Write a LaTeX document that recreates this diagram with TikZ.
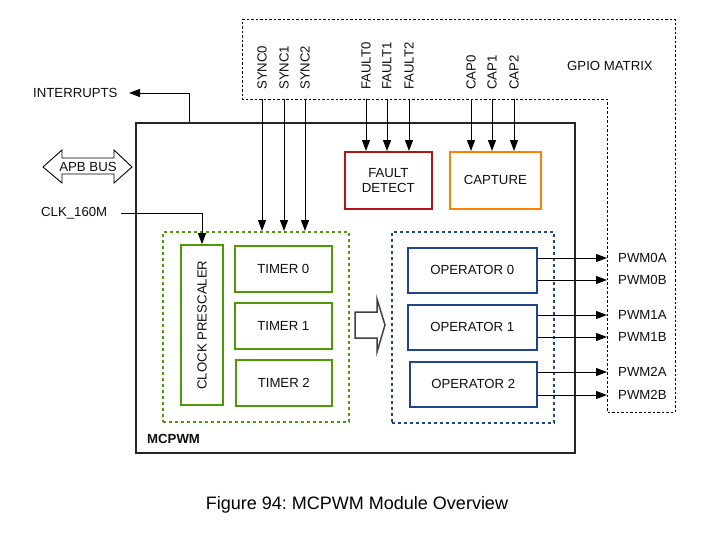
\documentclass[tikz,border=0pt]{standalone}
\usepackage{fontspec}
\setmainfont{Liberation Sans}
\usetikzlibrary{arrows.meta}
\definecolor{grn}{RGB}{78,154,6}
\definecolor{redb}{RGB}{180,20,20}
\definecolor{orng}{RGB}{255,128,0}
\definecolor{blu}{RGB}{30,70,140}
\definecolor{txt}{RGB}{15,15,15}
\begin{document}
\begin{tikzpicture}[x=1pt,y=-1pt,
  font=\fontsize{13.2}{15}\selectfont, text=txt,
  blk/.style={draw, line width=1.6pt, anchor=north west, inner sep=0pt, align=center},
  grp/.style={draw, line width=1.6pt, dash pattern=on 3pt off 3pt, anchor=north west, inner sep=0pt},
  arr/.style={-{Triangle[length=11pt,width=8pt]}, line width=1pt},
  lbl/.style={inner sep=0pt},
  vlbl/.style={inner sep=0pt, rotate=90, anchor=west}
]
\useasboundingbox (0,0) rectangle (710,533);
\fill[white] (0,0) rectangle (710,533);

% GPIO matrix dashed outline
\draw[line width=0.9pt, dash pattern=on 2.5pt off 2pt]
  (242,19) -- (675,19) -- (675,412) -- (607,412) -- (607,99) -- (242,99) -- cycle;
\node[lbl, anchor=west] (gpio) at (567,66) {GPIO MATRIX};

% MCPWM main box
\node[draw, line width=1.5pt, draw=black!85, anchor=north west, inner sep=0pt,
  minimum width=439pt, minimum height=330pt] (mcpwm) at (135,122) {};
\node[lbl, anchor=west, font=\fontsize{13.2}{15}\selectfont\bfseries] (mcpwmlbl) at (147,439) {MCPWM};

% Fault detect and capture
\node[blk, draw=redb, minimum width=87pt, minimum height=57pt] (fault) at (344,151) {FAULT\\DETECT};
\node[blk, draw=orng, minimum width=91pt, minimum height=57pt] (capture) at (449,151) {CAPTURE};

% Timer group
\node[grp, draw=grn, minimum width=186pt, minimum height=190pt] (tgrp) at (162,231) {};
\node[draw=grn, line width=1.6pt, inner sep=0pt, rotate=90,
  minimum width=160pt, minimum height=42pt] (cp) at (202,325) {CLOCK PRESCALER};
\node[blk, draw=grn, minimum width=97pt, minimum height=46pt] (t0) at (234,245) {TIMER 0};
\node[blk, draw=grn, minimum width=97pt, minimum height=46pt] (t1) at (234,302) {TIMER 1};
\node[blk, draw=grn, minimum width=96pt, minimum height=46pt] (t2) at (235,359) {TIMER 2};

% Operator group
\node[grp, draw=blu, minimum width=162pt, minimum height=191pt] (ogrp) at (391,231) {};
\node[blk, draw=blu, minimum width=129pt, minimum height=45pt] (op0) at (407,247) {OPERATOR 0};
\node[blk, draw=blu, minimum width=129pt, minimum height=45pt] (op1) at (407,304) {OPERATOR 1};
\node[blk, draw=blu, minimum width=127pt, minimum height=45pt] (op2) at (409,361) {OPERATOR 2};

% hollow arrow between groups
\draw[line width=1.5pt, draw=black!75, fill=white]
  (355,312) -- (377,312) -- (377,299) -- (385,325) -- (377,352) -- (377,338) -- (355,338) -- cycle;

% APB bus double arrow
\draw[line width=0.9pt, fill=white]
  (43,167) -- (62,150) -- (62,158) -- (114,158) -- (114,150) -- (132,167)
  -- (114,183) -- (114,174) -- (62,174) -- (62,183) -- cycle;
\node[lbl] (apb) at (88,167) {APB BUS};

% Interrupts
\node[lbl, anchor=west] (intr) at (33,93) {INTERRUPTS};
\coordinate (intsrc) at (189,122);
\coordinate (inttip) at (129,93);
\draw[arr] (intsrc) |- (inttip);

% Clock input
\node[lbl, anchor=west] (clk) at (41,213) {CLK\_160M};
\coordinate (clksrc) at (121,213);
\draw[arr] (clksrc) -| (cp.east);

% SYNC inputs
\node[vlbl] (sync0) at (262,90) {SYNC0};
\node[vlbl] (sync1) at (284,90) {SYNC1};
\node[vlbl] (sync2) at (305,90) {SYNC2};
\foreach \x/\n in {262/0,284/1,305/2} {
  \coordinate (s\n) at (\x,99);
  \draw[arr] (s\n) -- (s\n |- tgrp.north);
}

% FAULT inputs
\node[vlbl] (fault0) at (366,90) {FAULT0};
\node[vlbl] (fault1) at (387,90) {FAULT1};
\node[vlbl] (fault2) at (409,90) {FAULT2};
\foreach \x/\n in {366/0,387/1,409/2} {
  \coordinate (f\n) at (\x,99);
  \draw[arr] (f\n) -- (f\n |- fault.north);
}

% CAP inputs
\node[vlbl] (cap0) at (471,90) {CAP0};
\node[vlbl] (cap1) at (492,90) {CAP1};
\node[vlbl] (cap2) at (514,90) {CAP2};
\foreach \x/\n in {471/0,492/1,514/2} {
  \coordinate (c\n) at (\x,99);
  \draw[arr] (c\n) -- (c\n |- capture.north);
}

% PWM outputs
\node[lbl, anchor=west] (pwm0a) at (618,258) {PWM0A};
\node[lbl, anchor=west] (pwm0b) at (618,280) {PWM0B};
\node[lbl, anchor=west] (pwm1a) at (618,315) {PWM1A};
\node[lbl, anchor=west] (pwm1b) at (618,337) {PWM1B};
\node[lbl, anchor=west] (pwm2a) at (618,372) {PWM2A};
\node[lbl, anchor=west] (pwm2b) at (618,395) {PWM2B};
\draw[arr] (op0.east |- pwm0a.west) -- ([xshift=-11pt]pwm0a.west);
\draw[arr] (op0.east |- pwm0b.west) -- ([xshift=-11pt]pwm0b.west);
\draw[arr] (op1.east |- pwm1a.west) -- ([xshift=-11pt]pwm1a.west);
\draw[arr] (op1.east |- pwm1b.west) -- ([xshift=-11pt]pwm1b.west);
\draw[arr] (op2.east |- pwm2a.west) -- ([xshift=-11pt]pwm2a.west);
\draw[arr] (op2.east |- pwm2b.west) -- ([xshift=-11pt]pwm2b.west);

% Caption
\node[lbl, font=\fontsize{18}{20}\selectfont, text=black] (caption) at (357,505) {Figure 94:\ MCPWM Module Overview};
\end{tikzpicture}
\end{document}
